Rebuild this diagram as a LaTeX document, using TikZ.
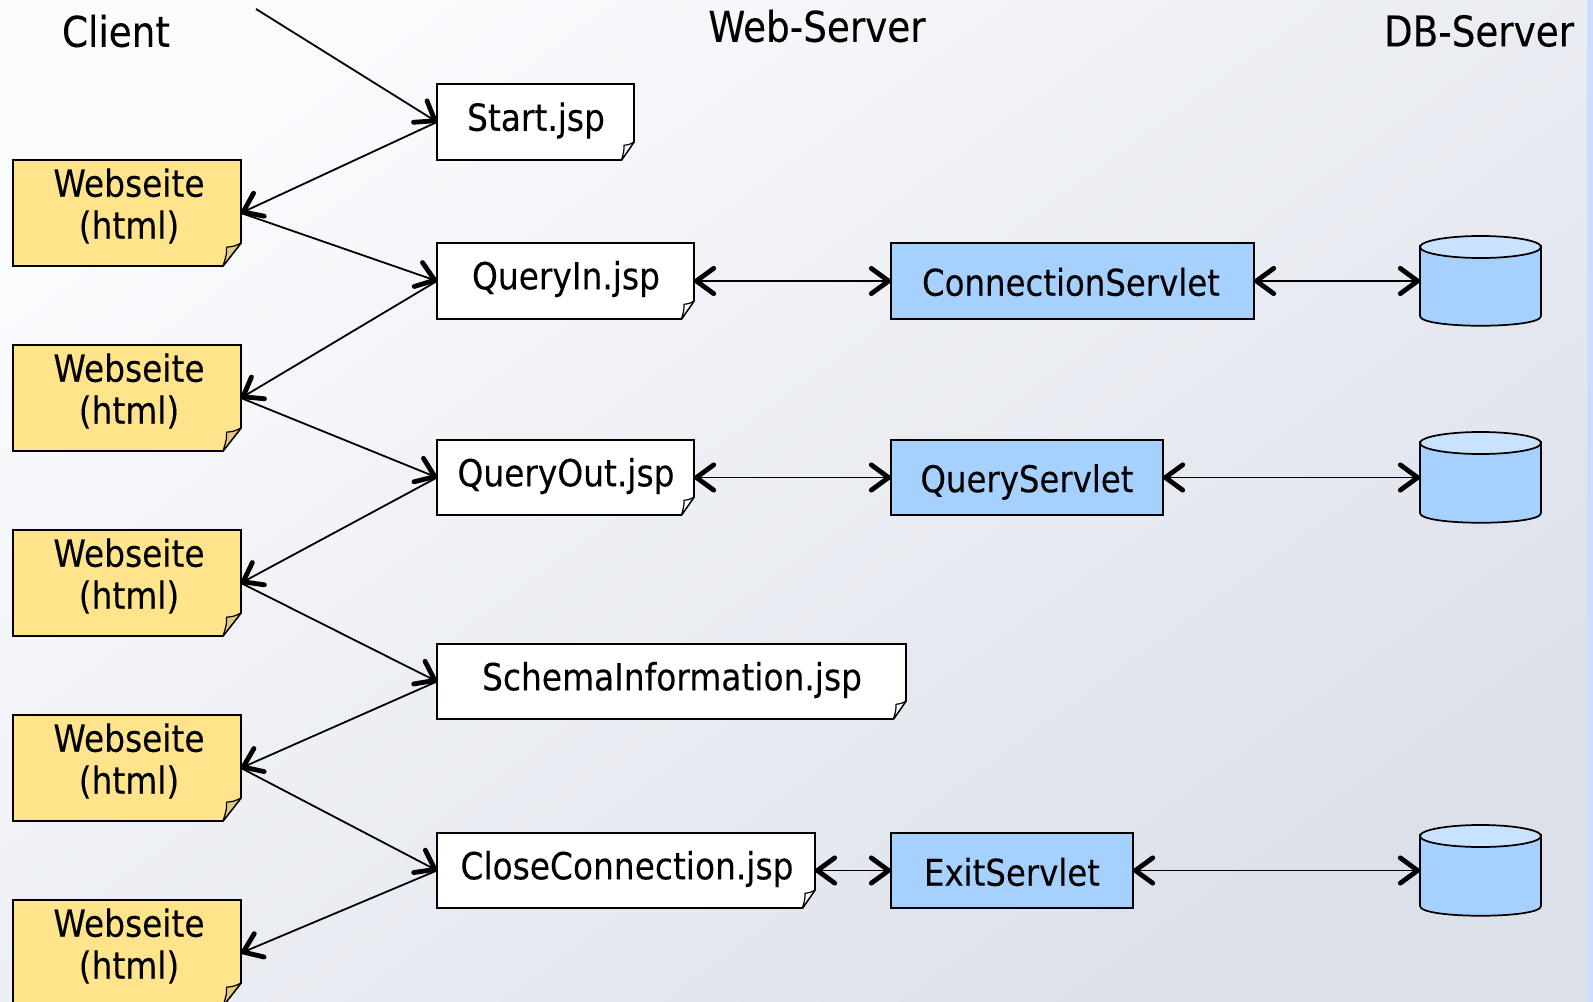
\documentclass[tikz,border=0pt]{standalone}
\usepackage{fontspec}
\setmainfont{DejaVu Sans}[FakeStretch=0.88,FakeBold=0.2]
\usetikzlibrary{arrows.meta,calc}
\definecolor{stripcol}{HTML}{CCDDFF}
\definecolor{bgA}{HTML}{FAFBFD}
\definecolor{bgB}{HTML}{DCE0E9}
\definecolor{webyel}{HTML}{FFE48C}
\definecolor{webfold}{HTML}{E3CB7D}
\definecolor{srvblue}{HTML}{A6D1FF}
\definecolor{cyltop}{HTML}{C9E3FF}
\tikzset{
  x=0.75pt,y=-0.75pt,
  outl/.style={draw=black,line width=1.3pt,line join=miter},
  thin outl/.style={draw=black,line width=0.9pt},
  lab/.style={font=\fontsize{28pt}{31.5pt}\selectfont,align=center,inner sep=0pt,text=black},
  srvlab/.style={font=\fontsize{27.6pt}{31.5pt}\selectfont,align=center,inner sep=0pt,text=black},
  ttl/.style={font=\fontsize{31.8pt}{36pt}\selectfont,inner sep=0pt,text=black},
  conn/.style={draw=black,line width=1.35pt,-{Straight Barb[length=13pt,width=19pt,line width=3.6pt,round]}},
  biconn/.style={draw=black,line width=1.35pt,{Straight Barb[length=13pt,width=19pt,line width=3.6pt,round]}-{Straight Barb[length=13pt,width=19pt,line width=3.6pt,round]}},
}
% name, x1,y1,x2,y2, fill, foldcolor, sx, sy
\newcommand{\docbox}[9]{%
  \path[fill=#6,outl] (#2,#3) -- (#4,#3) -- (#4,#5-#9) -- (#4-#8,#5) -- (#2,#5) -- cycle;
  \path[fill=#7,thin outl,line join=round] (#4,#5-#9) .. controls (#4-0.4*#8,#5-0.85*#9) .. (#4-0.8*#8,#5-0.82*#9) .. controls (#4-0.8*#8,#5-0.5*#9) .. (#4-#8,#5) -- cycle;
  \node[inner sep=0pt,outer sep=0pt,minimum width={(#4-#2)*0.75pt},minimum height={(#5-#3)*0.75pt}] (#1) at ({(#2+#4)/2},{(#3+#5)/2}) {};
}
\newcommand{\srvbox}[5]{%
  \node[fill=srvblue,outl,inner sep=0pt,outer sep=0pt,minimum width={(#4-#2)*0.75pt},minimum height={(#5-#3)*0.75pt}] (#1) at ({(#2+#4)/2},{(#3+#5)/2}) {};
}
\newcommand{\dbcyl}[5]{%
  \path[fill=srvblue,outl] (#2,#3+10) -- (#2,#5-10) .. controls (#2,#5+3) and (#4,#5+3) .. (#4,#5-10) -- (#4,#3+10) -- cycle;
  \path[fill=cyltop,outl] ({(#2+#4)/2},{(#3+#3+22)/2}) ellipse [x radius=60.5,y radius=11];
  \node[inner sep=0pt,outer sep=0pt,minimum width={(#4-#2)*0.75pt},minimum height={(#5-#3)*0.75pt}] (#1) at ({(#2+#4)/2},{(#3+#5)/2}) {};
}
\begin{document}
\begin{tikzpicture}
\useasboundingbox (0,0) rectangle (1593,1002);
\shade[shading=axis,left color=bgA,right color=bgB,shading angle=36] (0,0) rectangle (1593,1002);
\fill[stripcol] (1587,0) rectangle (1593,1002);

\node[ttl] (tclient) at (116,31) {Client};
\node[ttl] (tweb) at (817,26) {Web-Server};
\node[ttl] (tdb) at (1479,31) {DB-Server};
\coordinate (entry) at (256,9);

\docbox{start}{437}{84}{634}{160}{white}{white}{12.5}{18}
\node[lab] (tstart) at (536,120.5) {Start.jsp};
\docbox{qin}{437}{243}{694}{319}{white}{white}{12.5}{18}
\node[lab] (tqin) at (566,279) {QueryIn.jsp};
\docbox{qout}{437}{440}{694}{515}{white}{white}{12.5}{18}
\node[lab] (tqout) at (566,476) {QueryOut.jsp};
\docbox{schema}{437}{644}{906}{719}{white}{white}{12.5}{18}
\node[lab] (tschema) at (672,680) {SchemaInformation.jsp};
\docbox{close}{437}{833}{815}{908}{white}{white}{12.5}{18}
\node[lab] (tclose) at (627,869) {CloseConnection.jsp};

\docbox{w1}{13}{160}{241}{266}{webyel}{webfold}{18}{23}
\node[lab] (tw1) at (129,206) {Webseite\\(html)};
\docbox{w2}{13}{345}{241}{451}{webyel}{webfold}{18}{23}
\node[lab] (tw2) at (129,391) {Webseite\\(html)};
\docbox{w3}{13}{530}{241}{636}{webyel}{webfold}{18}{23}
\node[lab] (tw3) at (129,576) {Webseite\\(html)};
\docbox{w4}{13}{715}{241}{821}{webyel}{webfold}{18}{23}
\node[lab] (tw4) at (129,761) {Webseite\\(html)};
\docbox{w5}{13}{900}{241}{1006}{webyel}{webfold}{18}{23}
\node[lab] (tw5) at (129,946) {Webseite\\(html)};

\srvbox{conn1}{891}{243}{1254}{319}
\node[srvlab] (tconn1) at (1071,282) {ConnectionServlet};
\srvbox{qsrv}{891}{440}{1163}{515}
\node[srvlab] (tqsrv) at (1027,482) {QueryServlet};
\srvbox{esrv}{891}{833}{1133}{908}
\node[srvlab] (tesrv) at (1012,872) {ExitServlet};

\dbcyl{db1}{1420}{236}{1541}{326}
\dbcyl{db2}{1420}{432}{1541}{523}
\dbcyl{db3}{1420}{825}{1541}{916}

\draw[conn] (entry) -- (start.west);
\draw[conn] (start.west) -- (w1.east);
\draw[conn] (w1.east) -- (qin.west);
\draw[conn] (qin.west) -- (w2.east);
\draw[conn] (w2.east) -- (qout.west);
\draw[conn] (qout.west) -- (w3.east);
\draw[conn] (w3.east) -- (schema.west);
\draw[conn] (schema.west) -- (w4.east);
\draw[conn] (w4.east) -- (close.west);
\draw[conn] (close.west) -- (w5.east);
\draw[biconn] (qin.east) -- (conn1.west);
\draw[biconn] (conn1.east) -- (db1.west);
\draw[biconn] (qout.east) -- (qsrv.west);
\draw[biconn] (qsrv.east) -- (db2.west);
\draw[biconn] (close.east) -- (esrv.west);
\draw[biconn] (esrv.east) -- (db3.west);
\end{tikzpicture}
\end{document}
